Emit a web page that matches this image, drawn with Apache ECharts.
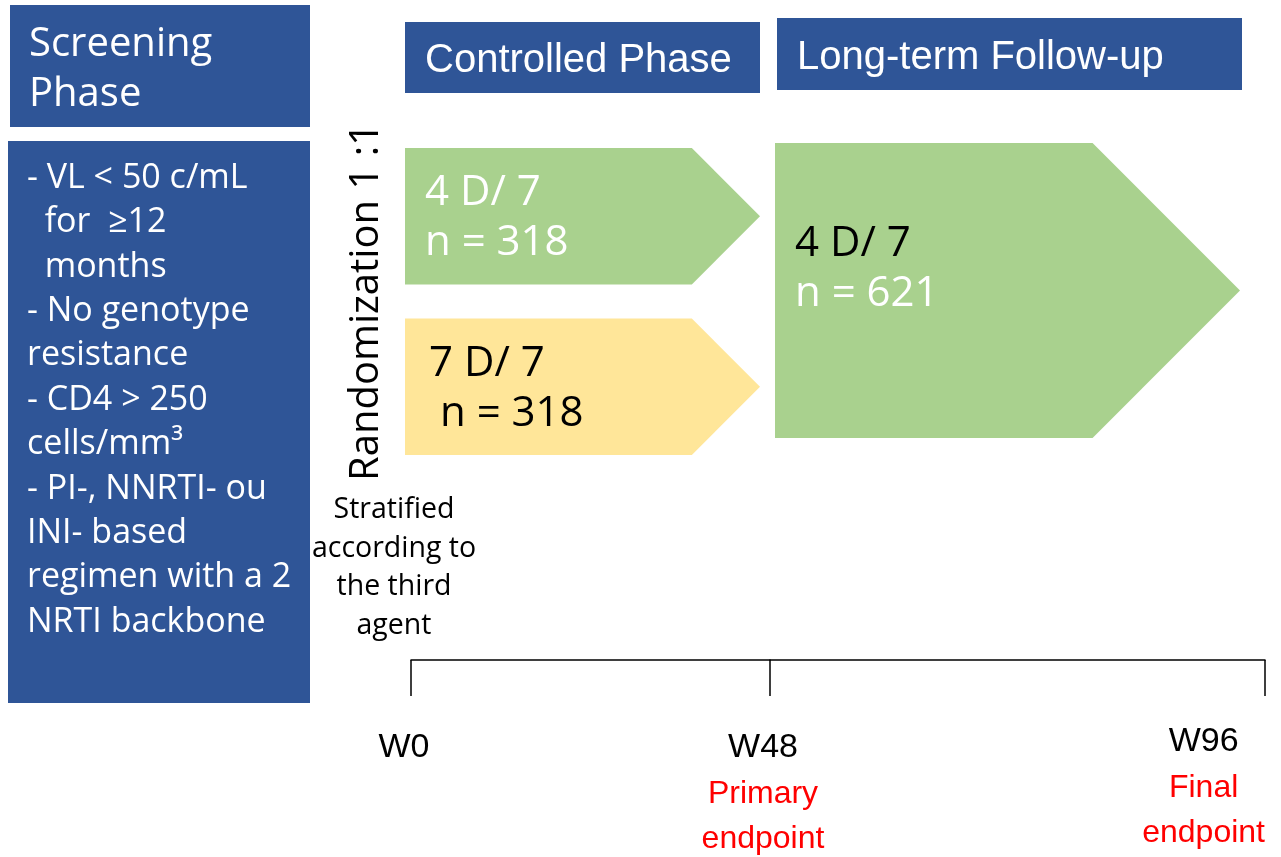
<!DOCTYPE html>
<html>
<head>
<meta charset="utf-8">
<script src="https://cdn.jsdelivr.net/npm/echarts@6/dist/echarts.min.js"></script>
<style>
  html, body { margin: 0; padding: 0; background: #fff; }
  #main { width: 1281px; height: 857px; }
</style>
</head>
<body>
<div id="main"></div>
<script>
// timeline (weeks)
const weekValues = [0, 48, 96];
const weekLabels = ['W0', 'W48', 'W96'];
const endpointLabels = ['', 'Primary endpoint', 'Final endpoint'];

// study arms: controlled phase W0-W48, follow-up W48-W96
const armNames = ['4 D/ 7', '7 D/ 7', '4 D/ 7'];
const armSizes = [318, 318, 621];
const armStart = [0, 0, 48];
const armEnd = [48, 48, 96];
const armRowFrom = [0, 1, 0];
const armRowTo = [0, 1, 1];
const rowNames = ['4 D/ 7', '7 D/ 7'];

const phaseNames = ['Controlled Phase', 'Long-term Follow-up'];
const screeningTitle = ['Screening', 'Phase'];
const criteria = [
  '- VL < 50 c/mL',
  '  for  \u226512',
  '  months',
  '- No genotype',
  'resistance',
  '- CD4 > 250',
  'cells/mm\u00b3',
  '- PI-, NNRTI- ou',
  'INI- based',
  'regimen with a 2',
  'NRTI backbone'
];
const randomLabel = 'Randomization 1 :1';
const stratLabel = ['Stratified', 'according to', 'the third', 'agent'];

// styles
const BLUE = '#2F5597';
const armFill = ['#A9D18E', '#FFE699', '#A9D18E'];
const armTextColor = [['#fff', '#fff'], ['#000', '#000'], ['#000', '#fff']];
const armNIndent = [0, 11, 0];
const armTextLeft = [20, 24, 20];

function armData(phaseStart) {
  const out = [];
  armNames.forEach((n, i) => {
    if (armStart[i] === phaseStart) {
      out.push([armStart[i], armEnd[i], armRowFrom[i], armRowTo[i], i]);
    }
  });
  return out;
}

function arrowRenderer(dxStart, dxEnd, padTop, padBottom, textDy) {
  return function (params, api) {
    const i = api.value(4);
    const pTop = api.coord([api.value(0), api.value(2)]);
    const pBot = api.coord([api.value(1), api.value(3)]);
    const x0 = pTop[0] + dxStart;
    const x1 = pBot[0] + dxEnd;
    const half = api.size([0, 1])[1] * 0.4;
    const yTop = pTop[1] - half - padTop;
    const yBot = pBot[1] + half - padBottom;
    const mid = (yTop + yBot) / 2;
    const tip = (yBot - yTop) / 2;
    return {
      type: 'group',
      children: [
        {
          type: 'polygon',
          shape: { points: [[x0, yTop], [x1 - tip, yTop], [x1, mid], [x1 - tip, yBot], [x0, yBot]] },
          style: { fill: armFill[i] }
        },
        {
          type: 'text',
          x: x0 + armTextLeft[i],
          y: mid + textDy,
          style: {
            text: '{a|' + armNames[i] + '}\n{b|n = ' + armSizes[i] + '}',
            verticalAlign: 'middle',
            align: 'left',
            rich: {
              a: { fill: armTextColor[i][0], fontSize: 42, lineHeight: 50, fontFamily: 'Open Sans' },
              b: { fill: armTextColor[i][1], fontSize: 42, lineHeight: 50, fontFamily: 'Open Sans',
                   padding: [0, 0, 0, armNIndent[i]] }
            }
          }
        }
      ]
    };
  };
}

function weekLabel(value) {
  const i = weekValues.indexOf(value);
  if (i < 0) return '';
  let s = '{w|' + weekLabels[i] + '}';
  if (endpointLabels[i]) {
    s += '\n' + endpointLabels[i].split(' ').map(t => '{e|' + t + '}').join('\n');
  }
  return s;
}

const labelRich = {
  w: { fontSize: 34, lineHeight: 48, color: '#000', fontFamily: 'Liberation Sans', align: 'center' },
  e: { fontSize: 32, lineHeight: 45, color: '#FF0000', fontFamily: 'Liberation Sans', align: 'center' }
};

function timeAxis(grid, min, max, ticks, labelAlign, margin, padding) {
  return {
    gridIndex: grid,
    type: 'value',
    min: min,
    max: max,
    offset: 188,
    axisLine: { show: true, lineStyle: { color: '#000', width: 1.5 } },
    axisTick: { show: true, customValues: ticks, length: 36, lineStyle: { color: '#000', width: 1.5 } },
    axisLabel: { customValues: ticks, margin: margin, align: labelAlign, padding: padding,
                 formatter: weekLabel, rich: labelRich },
    splitLine: { show: false }
  };
}

const chart = echarts.init(document.getElementById('main'));

chart.setOption({
  animation: false,
  backgroundColor: '#fff',
  grid: [
    { left: 411, width: 359, top: 131, height: 341, outerBoundsMode: 'none' },
    { left: 770, width: 495, top: 131, height: 341, outerBoundsMode: 'none' }
  ],
  xAxis: [
    timeAxis(0, 0, 48, [0, 48], 'center', 64, [0, 14, 0, 0]),
    timeAxis(1, 48, 96, [96], 'right', 58, 0)
  ],
  yAxis: [
    { gridIndex: 0, type: 'category', data: rowNames, inverse: true, show: false },
    { gridIndex: 1, type: 'category', data: rowNames, inverse: true, show: false }
  ],
  series: [
    {
      type: 'custom',
      xAxisIndex: 0,
      yAxisIndex: 0,
      renderItem: arrowRenderer(-6, -10, 0, 0, 2),
      data: armData(0)
    },
    {
      type: 'custom',
      xAxisIndex: 1,
      yAxisIndex: 1,
      renderItem: arrowRenderer(5, -25, 5, 17, -21),
      data: armData(48)
    }
  ],
  graphic: [
    // screening phase title box
    { type: 'rect', shape: { x: 10, y: 5, width: 300, height: 122 }, style: { fill: BLUE } },
    {
      type: 'text', x: 29, y: 20,
      style: { text: screeningTitle.join('\n'), fill: '#fff', fontSize: 40, lineHeight: 50,
               fontFamily: 'Open Sans', verticalAlign: 'top' }
    },
    // inclusion criteria box
    { type: 'rect', shape: { x: 8, y: 141, width: 302, height: 562 }, style: { fill: BLUE } },
    {
      type: 'text', x: 27, y: 156,
      style: { text: criteria.join('\n'), fill: '#fff', fontSize: 34, lineHeight: 44.4,
               fontFamily: 'Open Sans', verticalAlign: 'top' }
    },
    // phase headers
    { type: 'rect', shape: { x: 405, y: 22, width: 355, height: 71 }, style: { fill: BLUE } },
    {
      type: 'text', x: 425, y: 61,
      style: { text: phaseNames[0], fill: '#fff', fontSize: 40, fontFamily: 'Liberation Sans',
               verticalAlign: 'middle' }
    },
    { type: 'rect', shape: { x: 777, y: 18, width: 465, height: 72 }, style: { fill: BLUE } },
    {
      type: 'text', x: 797, y: 58,
      style: { text: phaseNames[1], fill: '#fff', fontSize: 40, fontFamily: 'Liberation Sans',
               verticalAlign: 'middle' }
    },
    // randomization label
    {
      type: 'text', x: 367, y: 302, rotation: Math.PI / 2,
      style: { text: randomLabel, fill: '#000', fontSize: 40, fontFamily: 'Open Sans',
               align: 'center', verticalAlign: 'middle' }
    },
    {
      type: 'text', x: 394, y: 491,
      style: { text: stratLabel.join('\n'), fill: '#000', fontSize: 28.5, lineHeight: 38.5,
               fontFamily: 'Open Sans', align: 'center', verticalAlign: 'top' }
    }
  ]
});
</script>
</body>
</html>
